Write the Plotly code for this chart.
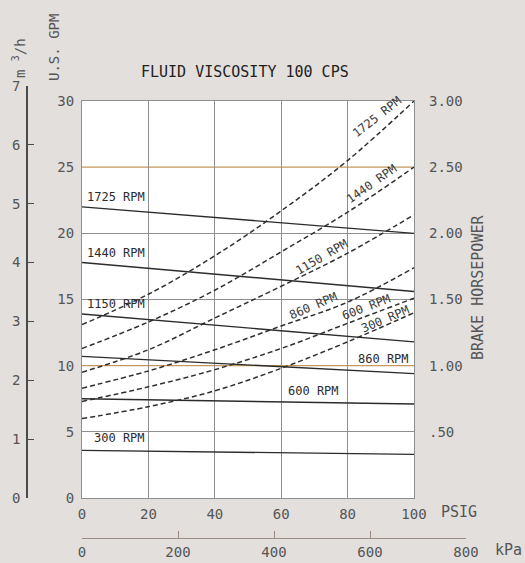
import plotly.graph_objects as go

# ---- data -------------------------------------------------------------
speeds = ["1725", "1440", "1150", "860", "600", "300"]

# discharge pressure, PSIG
psig_flow = [0, 100]
# delivered flow, U.S. GPM (solid lines)
gpm_1725 = [22.0, 20.0]
gpm_1440 = [17.8, 15.6]
gpm_1150 = [13.9, 11.8]
gpm_860 = [10.7, 9.4]
gpm_600 = [7.5, 7.1]
gpm_300 = [3.6, 3.3]

# brake horsepower vs pressure (dashed lines)
psig_hp = [0, 20, 40, 60, 80, 100]
hp_1725 = [1.31, 1.54, 1.83, 2.17, 2.55, 3.00]
hp_1440 = [1.13, 1.33, 1.57, 1.86, 2.16, 2.50]
hp_1150 = [0.95, 1.12, 1.36, 1.60, 1.85, 2.14]
hp_860 = [0.83, 0.96, 1.12, 1.30, 1.48, 1.74]
hp_600 = [0.73, 0.84, 0.97, 1.13, 1.32, 1.51]
hp_300 = [0.60, 0.69, 0.81, 0.98, 1.18, 1.40]

gpm_ticks = [0, 5, 10, 15, 20, 25, 30]
grey_grid_gpm = [5, 15, 20]
tan_grid_gpm = [10, 25]
psig_ticks = [0, 20, 40, 60, 80, 100]
hp_ticks = [0.5, 1.0, 1.5, 2.0, 2.5, 3.0]
hp_ticktext = [".50", "1.00", "1.50", "2.00", "2.50", "3.00"]
kpa_ticks = [0, 200, 400, 600, 800]
m3h_ticks = [0, 1, 2, 3, 4, 5, 6, 7]

flows = dict(zip(speeds, [gpm_1725, gpm_1440, gpm_1150, gpm_860, gpm_600, gpm_300]))
powers = dict(zip(speeds, [hp_1725, hp_1440, hp_1150, hp_860, hp_600, hp_300]))

# ---- page geometry (pixels of a 525 x 563 page) -------------------------
W, H = 525, 563
def px(x):
    return x / W
def py(y):
    return (H - y) / H

FONT = "DejaVu Sans Mono"
INK = "#2b2b2b"
GREY_TXT = "#555555"
GRID = "#8e8e8e"
TAN = "#c29a5c"
PAPER = "#e3dfdc"

fig = go.Figure()

# flow curves
for s in speeds:
    fig.add_trace(go.Scatter(
        x=psig_flow, y=flows[s], mode="lines",
        line=dict(color=INK, width=1.4), showlegend=False, hoverinfo="skip"))

# horsepower curves on the right-hand scale
for s in speeds:
    fig.add_trace(go.Scatter(
        x=psig_hp, y=powers[s], mode="lines", yaxis="y2",
        line=dict(color="#303030", width=1.5, dash="5px,3px", shape="spline", smoothing=1.0),
        showlegend=False, hoverinfo="skip"))

# helper traces so the extra scales are drawn
fig.add_trace(go.Scatter(x=[], y=[], xaxis="x2", yaxis="y3", showlegend=False, hoverinfo="skip"))
fig.add_trace(go.Scatter(x=[], y=[], yaxis="y4", showlegend=False, hoverinfo="skip"))

xdom = [px(82), px(414)]
ydom = [py(498), py(101)]

fig.update_layout(
    template="none",
    width=W, height=H,
    margin=dict(l=0, r=0, t=0, b=0, pad=0),
    paper_bgcolor=PAPER,
    plot_bgcolor="rgba(0,0,0,0)",
    font=dict(family=FONT, color=GREY_TXT, size=14),
    xaxis=dict(
        domain=xdom, range=[0, 100], tickvals=psig_ticks, automargin=False,
        showgrid=True, gridcolor=GRID, gridwidth=1,
        showline=True, mirror=True, linecolor=GRID, linewidth=1,
        zeroline=False, ticks="", ticklabelstandoff=3,
        tickfont=dict(size=14, color=GREY_TXT),
    ),
    yaxis=dict(
        domain=ydom, range=[0, 30], tickvals=gpm_ticks, automargin=False,
        showgrid=False, showline=True, mirror=True, linecolor=GRID, linewidth=1,
        zeroline=False, ticks="", ticklabelstandoff=4,
        tickfont=dict(size=14, color=GREY_TXT),
    ),
    yaxis2=dict(
        overlaying="y", side="right", range=[0, 3], automargin=False,
        tickvals=hp_ticks, ticktext=hp_ticktext,
        showgrid=False, showline=False, zeroline=False, ticks="",
        ticklabelstandoff=14, tickfont=dict(size=14, color=GREY_TXT),
    ),
    # grey horizontal grid
    yaxis4=dict(
        overlaying="y", range=[0, 30], tickvals=grey_grid_gpm, automargin=False,
        showgrid=True, gridcolor=GRID, gridwidth=1,
        showticklabels=False, ticks="", showline=False, zeroline=False,
    ),
    # metric pressure scale
    xaxis2=dict(
        domain=[px(82), px(466)], anchor="free", position=py(538), automargin=False,
        range=[0, 800], tickvals=kpa_ticks, side="bottom",
        showgrid=False, zeroline=False,
        showline=True, linecolor="#9a8c84", linewidth=1.2,
        ticks="inside", ticklen=7, tickcolor="#9a8c84", tickwidth=1.2,
        ticklabelstandoff=1, tickfont=dict(size=14, color=GREY_TXT),
    ),
    # metric flow scale
    yaxis3=dict(
        domain=[py(498), py(86)], anchor="free", position=px(27), automargin=False,
        range=[0, 7], tickvals=m3h_ticks, side="left",
        showgrid=False, zeroline=False,
        showline=True, linecolor="#4a4a4a", linewidth=1.5,
        ticks="inside", ticklen=6, tickcolor="#4a4a4a", tickwidth=1.3,
        ticklabelstandoff=3, tickfont=dict(size=14, color=GREY_TXT),
    ),
)

# white chart field, then tan rules across it
fig.add_shape(type="rect", xref="x domain", yref="y domain",
              x0=0, x1=1, y0=0, y1=1, fillcolor="white",
              line=dict(width=0), layer="below")
for v in tan_grid_gpm:
    fig.add_shape(type="line", xref="x domain", yref="y", x0=0, x1=1, y0=v, y1=v,
                  line=dict(color=TAN, width=1.3), layer="below")

ann = []
def text(x, y, s, size=14, color=GREY_TXT, angle=0, xanchor="center", yanchor="middle",
         xref="paper", yref="paper", yshift=0):
    ann.append(dict(x=x, y=y, text=s, showarrow=False, textangle=angle,
                    xanchor=xanchor, yanchor=yanchor, xref=xref, yref=yref,
                    yshift=yshift, font=dict(family=FONT, size=size, color=color)))

text(px(245), py(72), "FLUID VISCOSITY 100 CPS", size=15, color="#222222")
text(px(54), py(48), "U.S. GPM", size=14, angle=-90)
text(px(19), py(58), "m <sup>3</sup>/h", size=14, angle=-90)
text(px(478), py(288), "BRAKE HORSEPOWER", size=15, angle=-90)
text(px(459), py(512), "PSIG", size=15)
text(px(508), py(550), "kPa", size=15)

# flow-curve labels, seated on their lines
for s, x0, anchor, shift in [("1725", 1, "left", 1), ("1440", 1, "left", 1),
                              ("1150", 1, "left", 1), ("300", 3, "left", 3)]:
    f = flows[s]
    yv = f[0] + (f[1] - f[0]) * x0 / 100
    text(x0, yv, s + " RPM", size=12, color=INK, xanchor=anchor, yanchor="bottom",
         xref="x", yref="y", yshift=shift)
f = flows["860"]
text(99, f[0] + (f[1] - f[0]) * 0.99, "860 RPM", size=12, color=INK, xanchor="right",
     yanchor="bottom", xref="x", yref="y", yshift=5)
f = flows["600"]
text(69.6, f[0] + (f[1] - f[0]) * 0.696, "600 RPM", size=12, color=INK,
     yanchor="bottom", xref="x", yref="y", yshift=2)

# horsepower-curve labels, tilted along the curves
for s, xc, yc, ang in [("1725", 88.8, 2.88, -38), ("1440", 87.2, 2.37, -35),
                       ("1150", 72.3, 1.82, -30), ("860", 69.6, 1.45, -23),
                       ("600", 85.8, 1.44, -21), ("300", 91.5, 1.35, -23)]:
    text(xc, yc, s + " RPM", size=12, color="#3a3a3a", angle=ang, xref="x", yref="y2")

fig.update_layout(annotations=ann)

fig.write_html("out.html")
